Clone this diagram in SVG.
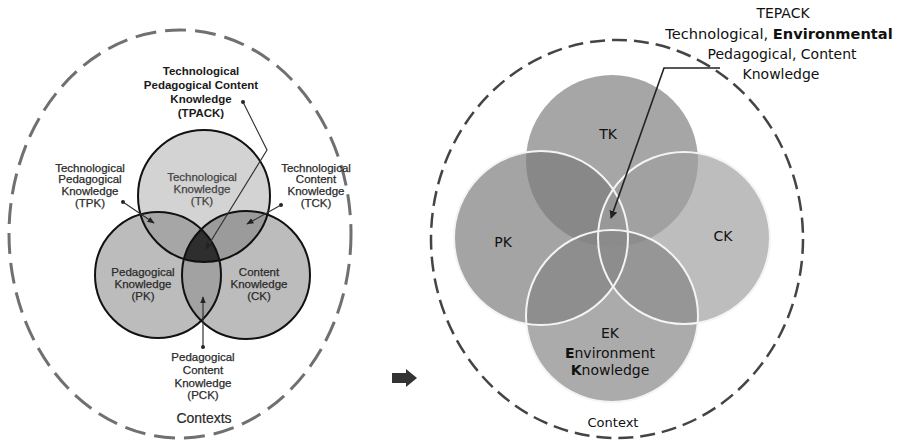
<svg xmlns="http://www.w3.org/2000/svg" width="902" height="445" viewBox="0 0 902 445">
<style>
.lt{font-family:"Liberation Sans",Arial,sans-serif;font-size:11.5px;fill:#2a2a2a;stroke:#2a2a2a;stroke-width:0.25;text-anchor:middle}
.ltb{font-family:"Liberation Sans",Arial,sans-serif;font-size:11.5px;font-weight:bold;fill:#1a1a1a;text-anchor:middle}
.rt{font-family:"DejaVu Sans",Verdana,sans-serif;font-size:14px;fill:#111;text-anchor:middle}
.ring{fill:none;stroke:#111;stroke-width:2}
.lead{fill:none;stroke:#333;stroke-width:1.2}
.rc{fill-opacity:0.685}
.wr{fill:none;stroke:#f4f4f4;stroke-width:2}
</style>
<defs>
<marker id="ah" viewBox="0 0 10 10" refX="9" refY="5" markerWidth="6" markerHeight="6" orient="auto">
<path d="M0,1 L10,5 L0,9 z" fill="#222"/>
</marker>
<marker id="ah2" viewBox="0 0 10 10" refX="9" refY="5" markerWidth="5" markerHeight="5" orient="auto">
<path d="M0,0 L10,5 L0,10 z" fill="#222"/>
</marker>
<clipPath id="cTK"><circle cx="204" cy="196" r="66"/></clipPath>
<clipPath id="cPK"><circle cx="158" cy="275" r="63"/></clipPath>
<clipPath id="cCK"><circle cx="246" cy="275" r="64"/></clipPath>
</defs>
<rect width="902" height="445" fill="#fff"/>

<!-- LEFT DIAGRAM -->
<g id="left-context">
<ellipse cx="180" cy="234" rx="171" ry="204" fill="none" stroke="#707070" stroke-width="3" stroke-dasharray="21 9"/>
<text class="lt" x="204" y="423" style="font-size:14px;stroke-width:0.2">Contexts</text>
</g>
<g id="left-tk">
<circle cx="204" cy="196" r="66" fill="#d3d3d3"/>
</g>
<g id="left-pk">
<circle cx="158" cy="275" r="63" fill="#bcbcbc"/>
</g>
<g id="left-ck">
<circle cx="246" cy="275" r="64" fill="#bcbcbc"/>
</g>
<g id="left-overlaps">
<circle cx="158" cy="275" r="63" fill="#a6a6a6" clip-path="url(#cTK)"/>
<circle cx="246" cy="275" r="64" fill="#9b9b9b" clip-path="url(#cTK)"/>
<circle cx="246" cy="275" r="64" fill="#a2a2a2" clip-path="url(#cPK)"/>
<g clip-path="url(#cTK)"><circle cx="246" cy="275" r="64" fill="#2e2e2e" clip-path="url(#cPK)"/></g>
</g>
<g id="left-rings">
<circle class="ring" cx="204" cy="196" r="66"/>
<circle class="ring" cx="158" cy="275" r="63"/>
<circle class="ring" cx="246" cy="275" r="64"/>
</g>
<g id="left-labels">
<text class="lt" x="202" y="181" style="fill:#444;stroke:#444">Technological</text>
<text class="lt" x="202" y="193" style="fill:#444;stroke:#444">Knowledge</text>
<text class="lt" x="202" y="205" style="fill:#444;stroke:#444">(TK)</text>
<text class="lt" x="143" y="276">Pedagogical</text>
<text class="lt" x="143" y="288">Knowledge</text>
<text class="lt" x="143" y="300">(PK)</text>
<text class="lt" x="259" y="276">Content</text>
<text class="lt" x="259" y="288">Knowledge</text>
<text class="lt" x="259" y="300">(CK)</text>
</g>
<g id="tpack-label">
<text class="ltb" x="201" y="75">Technological</text>
<text class="ltb" x="201" y="89">Pedagogical Content</text>
<text class="ltb" x="201" y="103">Knowledge</text>
<text class="ltb" x="201" y="117">(TPACK)</text>
</g>
<g id="tpk-label">
<text class="lt" x="90" y="172">Technological</text>
<text class="lt" x="90" y="183">Pedagogical</text>
<text class="lt" x="90" y="195">Knowledge</text>
<text class="lt" x="90" y="207">(TPK)</text>
</g>
<g id="tck-label">
<text class="lt" x="316" y="172">Technological</text>
<text class="lt" x="316" y="183">Content</text>
<text class="lt" x="316" y="195">Knowledge</text>
<text class="lt" x="316" y="207">(TCK)</text>
</g>
<g id="pck-label">
<text class="lt" x="203" y="361">Pedagogical</text>
<text class="lt" x="203" y="374">Content</text>
<text class="lt" x="203" y="387">Knowledge</text>
<text class="lt" x="203" y="399">(PCK)</text>
</g>
<g id="left-connectors">
<circle cx="243" cy="102" r="2" fill="#222"/>
<polyline class="lead" points="243,102 267,150 206,249" marker-end="url(#ah)"/>
<circle cx="123" cy="202" r="2" fill="#222"/>
<line class="lead" x1="123" y1="202" x2="154" y2="223" marker-end="url(#ah)"/>
<circle cx="281" cy="205" r="2" fill="#222"/>
<line class="lead" x1="281" y1="205" x2="247" y2="224" marker-end="url(#ah)"/>
<circle cx="203" cy="347" r="2" fill="#222"/>
<line class="lead" x1="203" y1="347" x2="203" y2="297" marker-end="url(#ah)"/>
</g>

<!-- ARROW BETWEEN -->
<g id="between-arrow">
<path d="M392,373 L406,373 L406,369 L417,378 L406,387 L406,383 L392,383 z" fill="#333"/>
</g>

<!-- RIGHT DIAGRAM -->
<g id="right-context">
<ellipse cx="617" cy="239" rx="186" ry="199" fill="none" stroke="#444" stroke-width="2.5" stroke-dasharray="15 7"/>
<text class="rt" x="613" y="427" style="font-size:13px">Context</text>
</g>
<g id="r-tk"><circle class="rc" cx="612" cy="161" r="86" fill="#7d7d7d"/></g>
<g id="r-pk"><circle class="rc" cx="541" cy="238" r="87" fill="#7a7a7a"/></g>
<g id="r-ck"><circle class="rc" cx="684" cy="238" r="86" fill="#9f9f9f"/></g>
<g id="r-ek"><circle class="rc" cx="612" cy="316" r="86" fill="#858585"/></g>
<g id="r-outlines">
<circle class="wr" cx="541" cy="238" r="87"/>
<circle class="wr" cx="684" cy="238" r="86"/>
<circle class="wr" cx="612" cy="316" r="86"/>
</g>
<g id="r-labels">
<text class="rt" x="608" y="139">TK</text>
<text class="rt" x="503" y="247">PK</text>
<text class="rt" x="723" y="241">CK</text>
<text class="rt" x="610" y="338">EK</text>
<text class="rt" x="610" y="358"><tspan font-weight="bold">E</tspan>nvironment</text>
<text class="rt" x="610" y="375"><tspan font-weight="bold">K</tspan>nowledge</text>
</g>
<g id="tepack-label">
<text class="rt" x="783" y="18">TEPACK</text>
<text class="rt" x="779" y="39" style="font-size:14.6px">Technological, <tspan font-weight="bold">Environmental</tspan></text>
<text class="rt" x="782" y="59">Pedagogical, Content</text>
<text class="rt" x="781" y="79">Knowledge</text>
</g>
<g id="right-connectors">
<polyline points="720,68 664,68 611,218" fill="none" stroke="#222" stroke-width="1.6" marker-end="url(#ah2)"/>
</g>
</svg>
